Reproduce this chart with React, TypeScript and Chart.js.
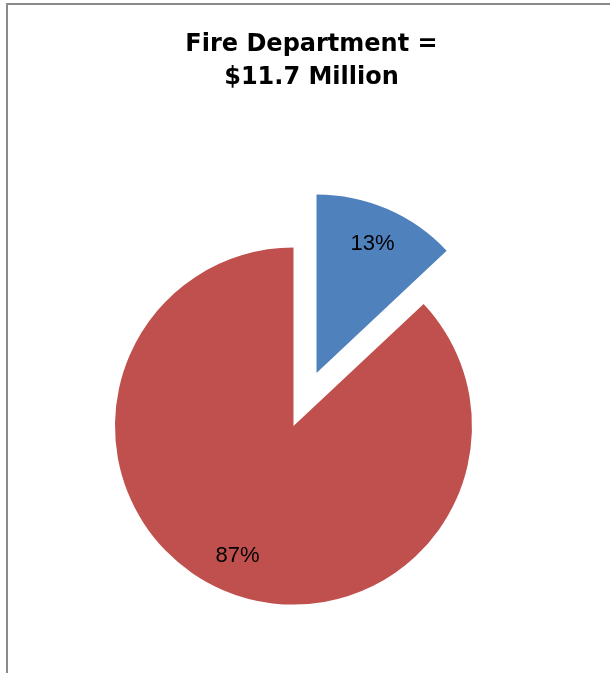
import React, { useEffect, useRef } from "react";
import { Chart, registerables } from "chart.js";

Chart.register(...registerables);

const titleLines = ["Fire Department =", "$11.7 Million"];
const categories = ["Portion A", "Portion B"];
const shares = [13, 87];
const sliceColors = ["#4F81BD", "#C0504D"];

const EXPLODE_PX = 29;
const PIE_SHIFT_X = -6.5;
const LABEL_RADIUS = 0.79;

const explodePlugin = {
  id: "explodeSlices",
  afterDatasetUpdate(chart: any, args: any) {
    const meta = args.meta;
    meta.data.forEach((el: any) => {
      const mid = (el.startAngle + el.endAngle) / 2;
      el.x += Math.cos(mid) * EXPLODE_PX + PIE_SHIFT_X;
      el.y += Math.sin(mid) * EXPLODE_PX;
    });
  },
};

const labelPlugin = {
  id: "sliceLabels",
  afterDatasetsDraw(chart: any) {
    const ctx = chart.ctx;
    const meta = chart.getDatasetMeta(0);
    const data = chart.data.datasets[0].data as number[];
    const total = data.reduce((a, b) => a + b, 0);
    ctx.save();
    ctx.fillStyle = "#000000";
    ctx.font = "22px 'Liberation Sans', sans-serif";
    ctx.textAlign = "center";
    ctx.textBaseline = "middle";
    meta.data.forEach((el: any, i: number) => {
      const mid = (el.startAngle + el.endAngle) / 2;
      const r = el.outerRadius * LABEL_RADIUS;
      const px = el.x + Math.cos(mid) * r;
      const py = el.y + Math.sin(mid) * r;
      ctx.fillText(Math.round((data[i] / total) * 100) + "%", px, py);
    });
    ctx.restore();
  },
};

export default function App() {
  const ref = useRef<HTMLCanvasElement | null>(null);
  useEffect(() => {
    if (!ref.current) return;
    const chart = new Chart(ref.current, {
      type: "pie",
      data: {
        labels: categories,
        datasets: [
          {
            data: shares,
            backgroundColor: sliceColors,
            borderWidth: 0,
          },
        ],
      },
      options: {
        responsive: false,
        animation: false,
        radius: 178.5,
        layout: { padding: 0 },
        plugins: {
          legend: { display: false },
          tooltip: { enabled: false },
          title: {
            display: true,
            text: titleLines,
            color: "#000000",
            font: { family: "'DejaVu Sans', sans-serif", size: 24, weight: "bold", lineHeight: 1.375 },
            padding: { top: 28, bottom: 0 },
          },
        },
      } as any,
      plugins: [explodePlugin, labelPlugin],
    });
    return () => chart.destroy();
  }, []);

  return (
    <div
      style={{
        position: "fixed",
        left: 0,
        top: 0,
        width: 610,
        height: 673,
        overflow: "hidden",
        background: "#ffffff",
      }}
    >
      <div
        style={{
          position: "absolute",
          left: 6,
          top: 3,
          width: 800,
          height: 900,
          borderLeft: "2px solid #8a8a8a",
          borderTop: "2px solid #8a8a8a",
        }}
      />
      <canvas
        ref={ref}
        width={623}
        height={705}
        style={{ position: "absolute", left: 0, top: 0, width: 623, height: 705 }}
      />
    </div>
  );
}
